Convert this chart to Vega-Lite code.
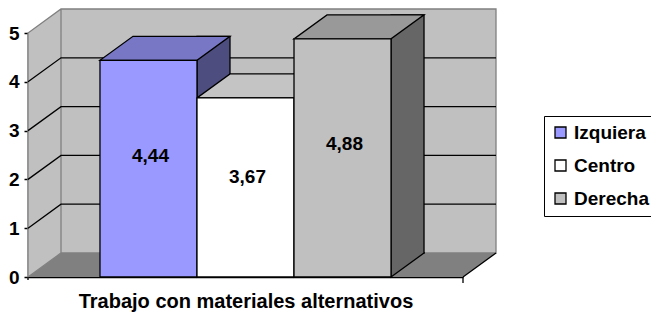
{
  "$schema": "https://vega.github.io/schema/vega-lite/v6.json",
  "width": 435,
  "height": 244,
  "autosize": {"type": "none"},
  "padding": {"left": 28, "top": 33, "right": 188, "bottom": 36},
  "background": "#ffffff",
  "data": {
    "values": [
      {"serie": "Izquiera", "valor": 4.44},
      {"serie": "Centro", "valor": 3.67},
      {"serie": "Derecha", "valor": 4.88}
    ]
  },
  "resolve": {"scale": {"fill": "independent"}},
  "layer": [
    {
      "transform": [{"aggregate": [{"op": "count", "as": "n"}]}],
      "mark": {"type": "point", "shape": "M-217.5,0 L217.5,0 L250.5,-24 L-184.5,-24 Z", "size": 4, "filled": true, "fill": "#808080", "strokeWidth": 0, "opacity": 1},
      "encoding": {
        "y": {"datum": 0, "type": "quantitative", "title": null, "scale": {"domain": [0, 5], "nice": false, "zero": true}}
      }
    },
    {
      "transform": [{"aggregate": [{"op": "count", "as": "n"}]}],
      "mark": {"type": "point", "shape": "M-217.5,0 L-217.5,-244 L-184.5,-268 L250.5,-268 L250.5,-24 L-184.5,-24 Z M-184.5,-268 L-184.5,-24", "size": 4, "filled": true, "fill": "#C0C0C0", "stroke": "#808080", "strokeWidth": 1.3, "opacity": 1},
      "encoding": {
        "y": {"datum": 0, "type": "quantitative", "title": null}
      }
    },
    {
      "transform": [{"aggregate": [{"op": "count", "as": "n"}]}],
      "mark": {"type": "point", "shape": "M-217.5,-48.8 L-184.5,-72.8 L250.5,-72.8 M-217.5,-97.6 L-184.5,-121.6 L250.5,-121.6 M-217.5,-146.4 L-184.5,-170.4 L250.5,-170.4 M-217.5,-195.2 L-184.5,-219.2 L250.5,-219.2 M217.5,0 L250.5,-24 M217.5,0 L217.5,6 M-217.5,0 L-217.5,3", "size": 4, "filled": false, "stroke": "#000000", "strokeWidth": 1.3, "opacity": 1},
      "encoding": {
        "y": {"datum": 0, "type": "quantitative", "title": null}
      }
    },
    {
      "mark": {"type": "bar", "width": 33, "xOffset": 65, "yOffset": -24, "y2Offset": -24, "stroke": "#000000", "strokeWidth": 1.3},
      "encoding": {
        "x": {"field": "serie", "type": "nominal", "sort": ["Izquiera", "Centro", "Derecha"], "title": "Trabajo con materiales alternativos", "scale": {"type": "band", "paddingInner": 0, "paddingOuter": 0.742}},
        "y": {"field": "valor", "type": "quantitative", "title": null},
        "fill": {"field": "serie", "type": "nominal", "scale": {"domain": ["Izquiera", "Centro", "Derecha"], "range": ["#4D4D80", "#808080", "#666666"]}, "legend": null}
      }
    },
    {
      "mark": {"type": "point", "shape": "M48.5,-25 L48.5,0 L81.5,-24 L81.5,-25", "size": 4, "filled": true, "stroke": "#000000", "strokeWidth": 1.3, "opacity": 1},
      "encoding": {
        "x": {"field": "serie", "type": "nominal", "sort": ["Izquiera", "Centro", "Derecha"], "title": "Trabajo con materiales alternativos"},
        "y": {"datum": 0, "type": "quantitative", "title": null},
        "fill": {"field": "serie", "type": "nominal", "scale": {"domain": ["Izquiera", "Centro", "Derecha"], "range": ["#4D4D80", "#808080", "#666666"]}, "legend": null}
      }
    },
    {
      "mark": {"type": "point", "shape": "M-48.5,0 L48.5,0 L81.5,-24 L-15.5,-24 Z", "size": 4, "filled": true, "stroke": "#000000", "strokeWidth": 1.3, "opacity": 1},
      "encoding": {
        "x": {"field": "serie", "type": "nominal", "sort": ["Izquiera", "Centro", "Derecha"], "title": "Trabajo con materiales alternativos"},
        "y": {"field": "valor", "type": "quantitative", "title": null},
        "fill": {"field": "serie", "type": "nominal", "scale": {"domain": ["Izquiera", "Centro", "Derecha"], "range": ["#7777C6", "#C4C4C4", "#999999"]}, "legend": null}
      }
    },
    {
      "mark": {"type": "bar", "stroke": "#000000", "strokeWidth": 1.3},
      "encoding": {
        "x": {"field": "serie", "type": "nominal", "sort": ["Izquiera", "Centro", "Derecha"], "title": "Trabajo con materiales alternativos"},
        "y": {"field": "valor", "type": "quantitative", "title": null},
        "fill": {
          "field": "serie", "type": "nominal",
          "scale": {"domain": ["Izquiera", "Centro", "Derecha"], "range": ["#9999FF", "#FFFFFF", "#C0C0C0"]},
          "legend": {"title": null, "orient": "none", "legendX": 516, "legendY": 83, "direction": "vertical", "symbolType": "square", "symbolSize": 121, "symbolStrokeColor": "#000000", "symbolStrokeWidth": 1.3, "labelFont": "Liberation Sans", "labelFontSize": 19, "labelFontWeight": "bold", "labelColor": "#000000", "labelOffset": 4, "rowPadding": 13, "padding": 7, "strokeColor": "#000000", "fillColor": "#ffffff"}
        }
      }
    },
    {
      "mark": {"type": "text", "font": "Liberation Sans", "fontSize": 19, "fontWeight": "bold", "color": "#000000", "baseline": "middle", "align": "center", "dx": 2},
      "encoding": {
        "x": {"field": "serie", "type": "nominal", "sort": ["Izquiera", "Centro", "Derecha"], "title": "Trabajo con materiales alternativos"},
        "y": {"field": "valor", "type": "quantitative", "stack": "zero", "bandPosition": 0.56, "title": null},
        "text": {"field": "valor", "type": "quantitative", "format": ".2f"}
      }
    }
  ],
  "config": {
    "view": {"stroke": null},
    "font": "Liberation Sans",
    "axis": {"grid": false, "zindex": 1, "domainColor": "#000000", "domainWidth": 1.5},
    "axisX": {"labels": false, "ticks": false, "titleFont": "Liberation Sans", "titleFontSize": 20, "titleFontWeight": "bold", "titleColor": "#000000", "titlePadding": 14},
    "axisY": {"tickCount": 5, "tickColor": "#000000", "tickWidth": 1.5, "tickSize": 4, "labelFont": "Liberation Sans", "labelFontSize": 19, "labelFontWeight": "bold", "labelColor": "#000000", "labelPadding": 5, "labelFlush": false, "labelOverlap": false},
    "locale": {"number": {"decimal": ",", "thousands": ".", "grouping": [3], "currency": ["", " €"]}}
  }
}
